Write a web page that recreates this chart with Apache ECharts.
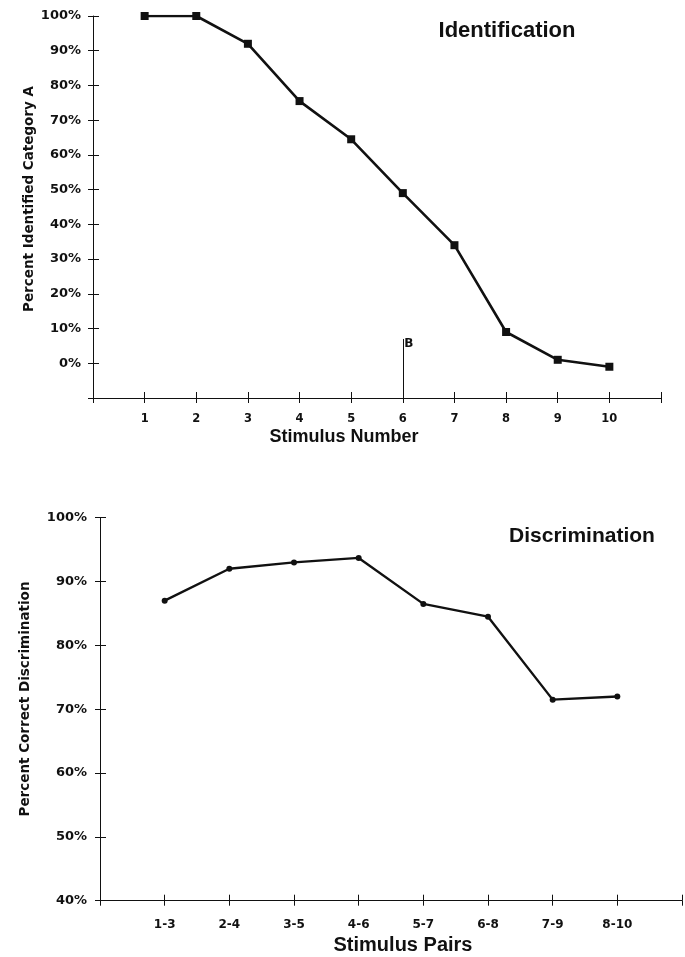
<!DOCTYPE html>
<html><head><meta charset="utf-8">
<script src="https://cdn.jsdelivr.net/npm/echarts@6/dist/echarts.min.js"></script>
<style>html,body{margin:0;padding:0;background:#fff}#c{width:685px;height:957px}</style>
</head><body><div id="c"></div>
<script>
// ---- data ----
const stimulusNumbers = [1, 2, 3, 4, 5, 6, 7, 8, 9, 10];
const percentIdentifiedA = [100, 100, 92, 75.5, 64.5, 49, 34, 9, 1, -1];
const boundaryStimulus = 6;
const boundaryLabel = 'B';
const boundaryTop = 7;

const stimulusPairs = ['1-3', '2-4', '3-5', '4-6', '5-7', '6-8', '7-9', '8-10'];
const percentCorrectDiscrimination = [87, 92, 93, 93.7, 86.5, 84.5, 71.5, 72];

const titles = ['Identification', 'Discrimination'];
const xNames = ['Stimulus Number', 'Stimulus Pairs'];
const yNames = ['Percent Identified Category A', 'Percent Correct Discrimination'];

// ---- styles ----
const INK = '#111';
const tickFont = { fontFamily: 'DejaVu Sans', fontWeight: 'bold', fontSize: 13, color: INK };

function valAxis(gridIndex, min, max, interval, extra) {
  return Object.assign({
    type: 'value', gridIndex, min, max, interval,
    splitLine: { show: false },
    axisLine: { show: true, onZero: false, lineStyle: { color: INK, width: 1 } },
    axisTick: { show: true, length: 5, lineStyle: { color: INK } }
  }, extra);
}
function innerTicks(gridIndex, min, max, interval, extra) {
  return Object.assign({
    type: 'value', gridIndex, min, max, interval,
    splitLine: { show: false },
    axisLine: { show: false, onZero: false },
    axisLabel: { show: false },
    axisTick: { show: true, inside: true, length: 6, lineStyle: { color: INK } }
  }, extra);
}

const chart = echarts.init(document.getElementById('c'), null, { renderer: 'canvas' });

const option = {
  backgroundColor: '#fff',
  animation: false,
  grid: [
    { left: 93, top: 16, width: 568, height: 382 },
    { left: 100, top: 517.7, width: 590, height: 383 }
  ],
  xAxis: [
    valAxis(0, 0, 11, 1, {
      position: 'bottom',
      axisLabel: Object.assign({ margin: 15, formatter: v => (v >= 1 && v <= 10 ? String(v) : '') }, tickFont, { fontSize: 11.5 })
    }),
    innerTicks(0, 0, 11, 1, { position: 'bottom' }),
    valAxis(1, 0, 9, 1, {
      position: 'bottom',
      axisLabel: Object.assign({ margin: 18, formatter: v => (v >= 1 && v <= stimulusPairs.length ? stimulusPairs[v - 1] : '') }, tickFont, { fontSize: 12 })
    }),
    innerTicks(1, 0, 9, 1, { position: 'bottom' })
  ],
  yAxis: [
    valAxis(0, -10, 100, 10, {
      position: 'left',
      axisLabel: Object.assign({ margin: 12, formatter: v => (v >= 0 ? v + '%' : '') }, tickFont)
    }),
    innerTicks(0, -10, 100, 10, { position: 'left' }),
    valAxis(1, 40, 100, 10, {
      position: 'left',
      axisLabel: Object.assign({ margin: 13, formatter: v => v + '%' }, tickFont)
    }),
    innerTicks(1, 40, 100, 10, { position: 'left' })
  ],
  series: [
    {
      name: titles[0], type: 'line', xAxisIndex: 0, yAxisIndex: 0,
      data: stimulusNumbers.map((s, i) => [s, percentIdentifiedA[i]]),
      symbol: 'rect', symbolSize: 8, showSymbol: true,
      lineStyle: { color: INK, width: 2.6 },
      itemStyle: { color: INK },
      markLine: {
        silent: true, symbol: 'none',
        lineStyle: { color: INK, width: 1, type: 'solid' },
        label: {
          show: true, position: 'end', formatter: boundaryLabel,
          fontFamily: 'DejaVu Sans', fontWeight: 'bold', fontSize: 12, color: INK,
          distance: 0, offset: [6, 11]
        },
        data: [[{ coord: [boundaryStimulus, -10] }, { coord: [boundaryStimulus, boundaryTop] }]]
      }
    },
    {
      name: titles[1], type: 'line', xAxisIndex: 2, yAxisIndex: 2,
      data: percentCorrectDiscrimination.map((v, i) => [i + 1, v]),
      symbol: 'circle', symbolSize: 6, showSymbol: true,
      lineStyle: { color: INK, width: 2.4 },
      itemStyle: { color: INK }
    }
  ],
  graphic: [
    { type: 'text', x: 507, y: 31, style: { text: titles[0], textAlign: 'center', textVerticalAlign: 'middle', fontFamily: 'Liberation Sans', fontWeight: 'bold', fontSize: 22, fill: INK } },
    { type: 'text', x: 582, y: 536, style: { text: titles[1], textAlign: 'center', textVerticalAlign: 'middle', fontFamily: 'Liberation Sans', fontWeight: 'bold', fontSize: 21, fill: INK } },
    { type: 'text', x: 344, y: 437, style: { text: xNames[0], textAlign: 'center', textVerticalAlign: 'middle', fontFamily: 'Liberation Sans', fontWeight: 'bold', fontSize: 18, fill: INK } },
    { type: 'text', x: 403, y: 945, style: { text: xNames[1], textAlign: 'center', textVerticalAlign: 'middle', fontFamily: 'Liberation Sans', fontWeight: 'bold', fontSize: 20, fill: INK } },
    { type: 'text', x: 29, y: 199, rotation: Math.PI / 2, style: { text: yNames[0], textAlign: 'center', textVerticalAlign: 'middle', fontFamily: 'DejaVu Sans', fontWeight: 'bold', fontSize: 13.5, fill: INK } },
    { type: 'text', x: 25, y: 699, rotation: Math.PI / 2, style: { text: yNames[1], textAlign: 'center', textVerticalAlign: 'middle', fontFamily: 'DejaVu Sans', fontWeight: 'bold', fontSize: 13.5, fill: INK } }
  ]
};
chart.setOption(option);
</script>
</body></html>
